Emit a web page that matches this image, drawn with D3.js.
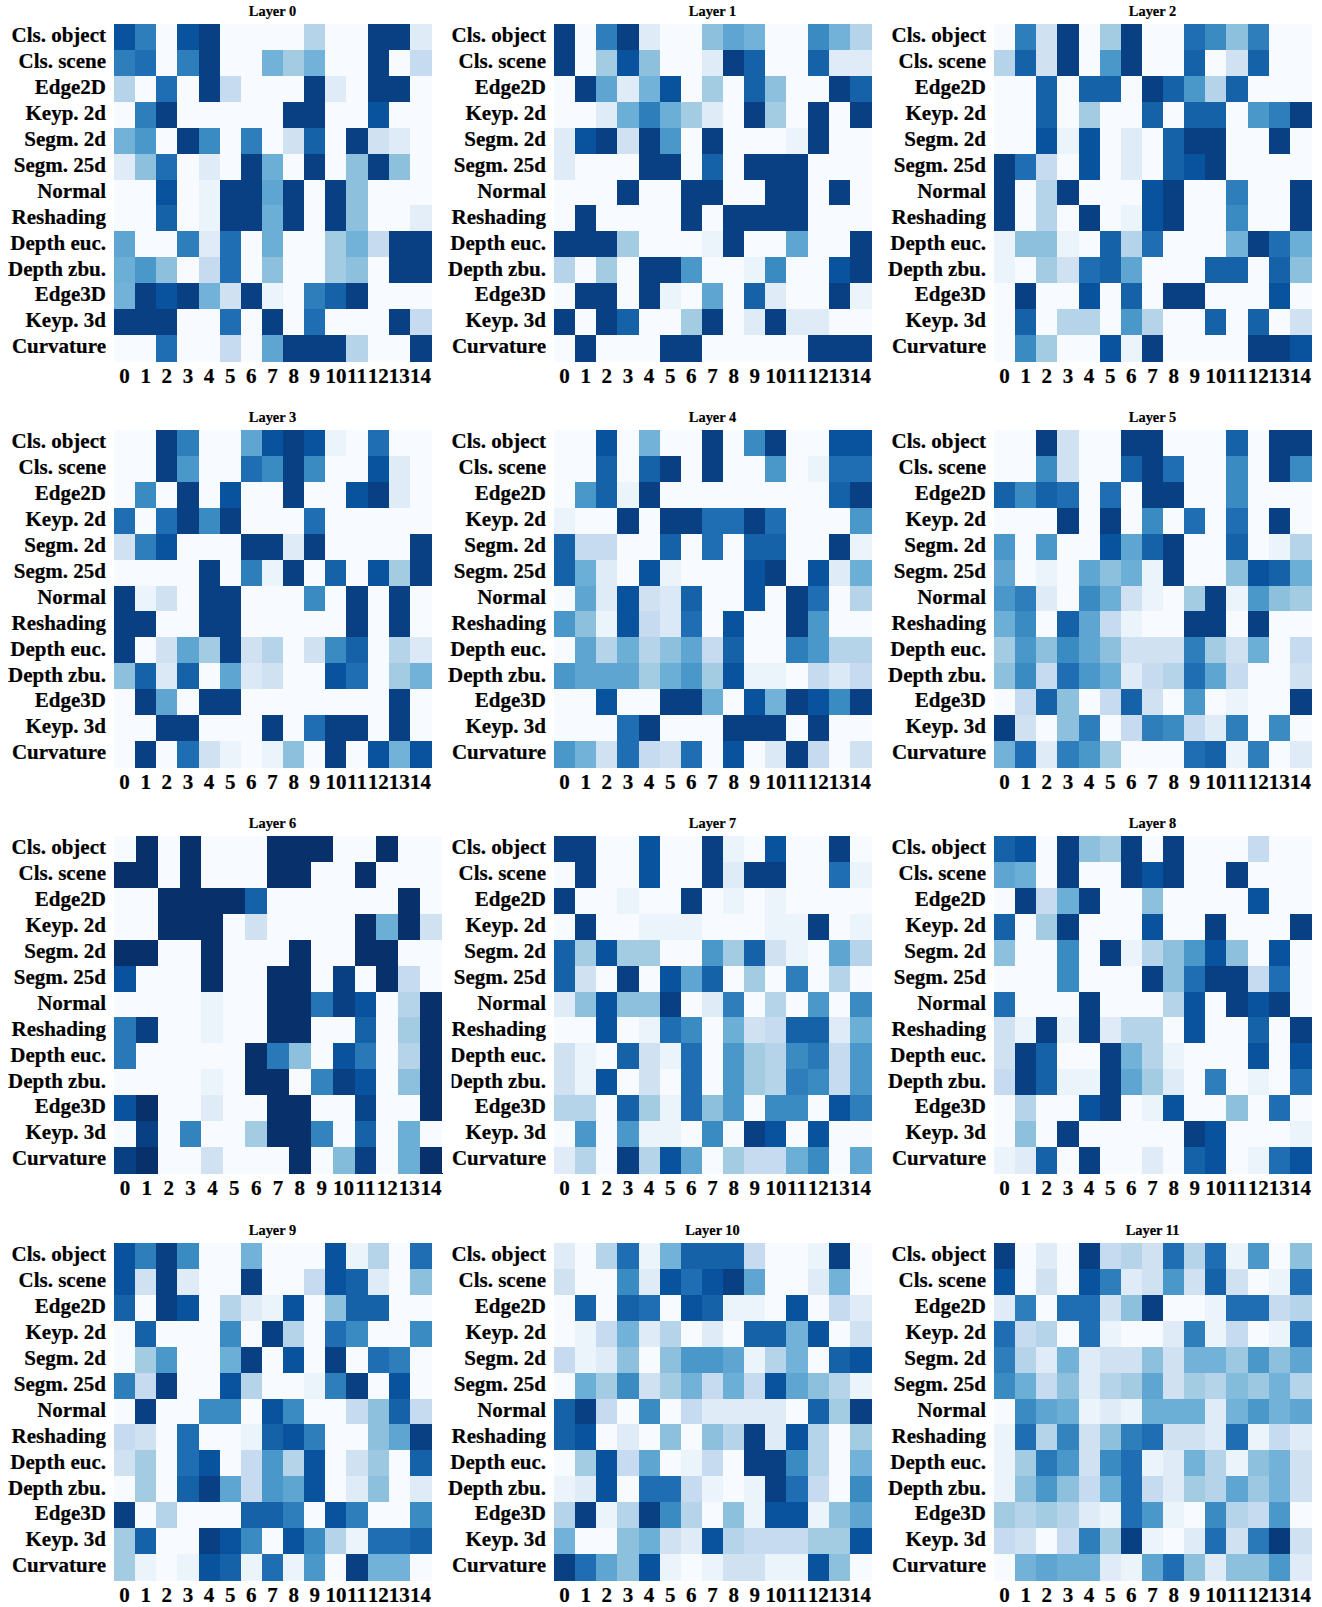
<!DOCTYPE html>
<html><head><meta charset="utf-8">
<script src="https://cdn.jsdelivr.net/npm/d3@7"></script>
<style>
html,body{margin:0;padding:0;background:#fff}
svg{display:block}
text{font-family:"Liberation Serif",serif;font-weight:bold;fill:#000;stroke:#000;stroke-width:0.2px}
</style></head><body>
<div id="chart"></div>
<script>
const tasks = ["Cls. object","Cls. scene","Edge2D","Keyp. 2d","Segm. 2d","Segm. 25d","Normal","Reshading","Depth euc.","Depth zbu.","Edge3D","Keyp. 3d","Curvature"];
const columns = [0,1,2,3,4,5,6,7,8,9,10,11,12,13,14];

const layer0 = [
[87,70,0,87,94,0,0,0,0,30,0,0,94,94,12],
[70,76,0,70,94,0,0,48,36,48,0,0,94,0,25],
[30,0,76,0,94,25,0,0,0,94,12,0,94,94,0],
[0,70,94,0,0,0,0,0,94,94,0,0,87,0,0],
[48,60,0,94,65,0,70,0,20,81,0,94,20,12,0],
[12,42,76,0,12,0,94,50,0,94,0,42,94,42,0],
[0,0,87,0,6,94,94,54,94,0,94,42,0,0,0],
[0,0,81,0,6,94,94,50,94,0,94,42,0,0,10],
[54,0,0,70,12,76,0,50,0,0,36,48,25,94,94],
[50,60,42,0,25,76,0,42,0,0,36,42,0,94,94],
[48,94,87,94,48,20,94,6,0,70,81,94,0,0,0],
[94,94,94,0,0,76,0,94,0,76,0,0,0,94,25],
[0,0,76,0,0,25,0,54,94,94,94,30,0,0,94]];
const layer1 = [
[94,0,70,94,12,0,0,42,54,48,0,0,65,48,30],
[94,0,36,87,42,0,0,12,94,81,0,0,81,12,12],
[0,94,54,12,48,87,0,36,0,81,42,0,0,94,81],
[0,0,12,50,70,50,36,12,0,94,36,0,94,0,94],
[12,87,94,20,94,60,0,94,0,0,0,6,94,0,0],
[12,0,0,0,94,94,0,81,0,94,94,94,0,0,0],
[0,0,0,94,0,0,94,94,0,0,94,94,0,94,0],
[0,94,0,0,0,0,94,0,94,94,94,94,0,0,0],
[94,94,94,36,0,0,0,6,94,0,0,54,0,0,94],
[30,0,36,0,94,94,60,0,0,6,65,0,0,87,94],
[0,94,94,0,94,6,0,54,0,81,12,0,0,94,6],
[94,0,94,81,0,0,36,94,0,12,94,12,12,0,0],
[0,94,0,0,0,94,94,0,0,0,0,0,94,94,94]];
const layer2 = [
[0,70,20,94,0,36,94,0,0,76,65,42,70,0,0],
[30,81,20,94,0,60,94,0,0,81,0,20,81,0,0],
[0,0,81,0,81,81,0,94,81,60,30,81,0,0,0],
[0,0,81,0,36,0,0,81,0,81,81,0,60,70,94],
[0,0,87,6,87,0,12,0,81,94,94,0,0,94,0],
[94,76,25,0,87,0,12,0,81,87,94,0,0,0,0],
[94,0,30,94,0,0,0,87,94,0,0,70,0,0,94],
[94,0,30,0,94,0,6,87,94,0,0,65,0,0,94],
[6,42,42,6,0,81,30,76,0,0,0,48,94,76,50],
[6,0,36,20,76,81,54,0,0,0,81,81,0,81,42],
[0,94,0,0,87,0,81,0,94,94,0,0,0,87,0],
[0,81,0,30,30,0,60,30,0,0,81,0,81,0,20],
[0,65,36,0,0,87,6,94,0,0,0,0,94,94,87]];
const layer3 = [
[0,0,94,70,0,0,54,87,94,87,6,0,76,0,0],
[0,0,94,60,0,0,76,65,94,65,0,0,87,12,0],
[0,65,0,94,0,87,0,0,94,0,0,87,94,12,0],
[76,0,76,94,65,94,0,0,0,76,0,0,0,0,0],
[20,70,87,0,0,0,94,94,12,94,0,0,0,0,94],
[0,0,0,0,94,0,70,6,94,0,81,0,87,36,94],
[94,6,20,0,94,94,0,0,0,65,0,94,0,94,0],
[94,94,0,0,94,94,0,0,0,0,0,94,0,94,0],
[94,0,20,54,36,94,20,30,0,20,65,81,0,30,14],
[42,81,14,81,0,54,14,20,0,0,87,76,0,36,48],
[0,94,54,0,94,94,0,0,0,0,0,0,0,94,0],
[0,0,94,94,0,0,0,94,0,76,94,94,0,94,0],
[0,94,0,76,20,6,0,6,42,0,94,0,87,48,87]];
const layer4 = [
[0,0,87,0,48,0,0,94,0,65,94,0,0,87,87],
[0,0,81,0,81,94,0,94,0,0,60,0,6,76,76],
[0,60,81,6,94,0,0,0,0,0,0,0,0,81,94],
[6,0,0,94,0,94,94,76,76,94,76,0,0,0,60],
[81,25,25,0,0,81,0,76,0,81,81,0,0,94,6],
[81,50,12,0,87,6,0,0,0,87,94,0,87,12,50],
[0,54,12,87,20,14,81,0,0,87,0,94,76,0,30],
[60,42,6,87,25,14,76,0,87,0,0,94,60,0,0],
[0,54,30,50,30,42,54,25,81,0,0,70,60,30,30],
[60,54,54,54,36,50,60,36,87,6,6,0,25,14,25],
[0,0,87,0,0,94,94,50,0,87,48,94,87,65,94],
[0,0,0,76,94,0,0,0,94,94,94,0,94,0,0],
[60,48,20,76,25,20,76,0,87,0,14,94,25,0,20]];
const layer5 = [
[0,0,94,20,0,0,94,94,0,0,0,81,0,94,94],
[0,0,65,20,0,0,81,94,76,0,0,65,0,94,65],
[81,65,81,76,0,76,0,94,94,0,0,65,0,0,0],
[0,0,0,94,0,94,0,65,0,76,0,76,0,94,0],
[60,0,60,0,0,87,54,81,94,0,0,81,0,6,30],
[54,0,6,0,54,42,50,6,94,0,0,42,87,81,50],
[60,70,12,0,65,50,20,6,0,36,94,6,60,42,36],
[50,65,0,81,54,25,6,0,0,94,94,0,94,0,0],
[36,60,42,65,54,42,20,20,20,70,36,20,50,0,25],
[42,65,25,76,60,50,12,25,30,76,54,25,0,0,20],
[0,25,81,42,0,25,81,20,0,60,0,6,0,0,94],
[94,20,0,42,70,0,25,70,65,25,12,70,0,65,0],
[48,76,12,70,60,36,0,0,0,76,81,6,70,0,12]];
const layer6 = [
[0,100,0,100,0,0,0,100,100,100,0,0,100,0,0],
[100,100,0,100,0,0,0,100,100,0,0,100,0,0,0],
[0,0,100,100,100,100,81,0,0,0,0,0,0,100,0],
[0,0,100,100,100,0,20,0,0,0,0,100,50,100,20],
[100,100,0,0,100,0,0,0,100,0,0,100,100,0,0],
[87,0,0,0,100,0,0,100,100,0,94,0,100,25,0],
[0,0,0,0,6,0,0,100,100,74,94,87,0,30,100],
[72,94,0,0,6,0,0,100,100,0,0,81,0,36,100],
[72,0,0,0,0,0,100,72,42,0,87,72,0,30,100],
[0,0,0,0,6,0,100,100,0,68,94,87,0,42,100],
[87,100,0,0,12,0,0,100,100,0,0,92,0,0,100],
[0,94,0,68,0,0,36,100,100,68,0,81,0,50,0],
[94,100,0,0,20,0,0,0,100,0,44,94,0,50,100]];
const layer7 = [
[94,94,0,0,87,0,0,94,6,0,87,0,0,94,0],
[0,94,0,0,87,0,0,94,12,94,94,0,0,76,6],
[94,0,0,6,0,0,94,0,6,0,6,0,0,0,0],
[0,94,0,0,6,6,6,0,0,0,6,6,94,0,6],
[81,36,87,36,36,0,0,60,36,81,20,6,0,54,30],
[81,20,0,94,0,87,54,81,0,36,0,70,0,30,0],
[12,42,87,42,42,94,0,12,70,0,30,0,60,0,65],
[0,0,87,0,6,76,65,0,50,20,25,81,81,12,50],
[20,6,0,81,20,6,76,0,60,36,30,65,72,25,60],
[20,6,87,0,20,0,76,0,60,36,30,70,65,25,60],
[30,30,0,81,36,6,76,42,60,0,65,65,0,87,70],
[0,60,0,60,6,6,0,65,0,94,87,0,87,0,0],
[12,30,0,94,30,87,54,0,36,25,25,50,65,0,54]];
const layer8 = [
[81,87,0,94,42,36,94,0,94,0,0,0,25,0,0],
[54,50,0,94,0,0,94,87,94,0,0,94,0,0,0],
[0,94,25,50,94,0,0,42,0,0,0,0,87,0,0],
[81,0,36,94,0,0,0,87,0,0,94,0,0,0,94],
[42,0,0,65,0,94,6,30,42,60,87,42,0,87,0],
[0,0,0,65,0,0,0,94,42,76,94,94,25,76,0],
[76,0,0,0,94,0,0,0,30,87,0,94,87,94,0],
[20,6,94,6,94,12,30,30,0,87,0,0,81,0,94],
[20,94,81,0,0,94,48,30,6,0,0,0,87,0,87],
[25,94,81,6,6,94,54,36,12,0,70,0,6,0,76],
[0,30,0,0,87,94,0,6,87,0,0,42,0,76,0],
[0,42,0,94,0,0,0,0,0,94,87,0,0,0,6],
[6,12,81,0,94,0,0,12,0,81,87,0,6,76,87]];
const layer9 = [
[87,70,94,65,0,0,48,0,0,0,87,6,30,0,76],
[87,20,94,12,0,0,94,0,0,25,87,81,12,0,42],
[81,0,94,87,0,30,12,6,87,0,42,81,81,0,0],
[0,81,0,0,0,65,0,94,30,0,76,65,0,0,65],
[0,36,60,0,0,50,94,0,87,0,94,0,76,70,0],
[70,25,94,0,0,87,30,0,0,6,70,94,0,87,0],
[0,94,0,0,65,65,0,87,65,0,0,25,42,81,25],
[25,20,0,76,0,0,6,81,87,70,0,0,42,54,94],
[20,36,0,76,87,0,25,60,30,87,0,20,38,0,81],
[0,36,0,81,94,54,25,60,54,87,0,12,42,0,12],
[94,0,30,0,0,0,81,81,70,0,87,70,0,0,65],
[36,81,0,0,94,87,65,0,87,65,30,6,76,76,81],
[36,6,0,6,87,81,6,76,6,60,0,94,48,48,0]];
const layer10 = [
[12,0,30,76,6,48,81,81,81,25,0,0,6,94,0],
[20,0,0,65,12,87,76,87,94,54,0,0,12,48,0],
[0,81,0,81,76,0,87,81,6,6,0,87,0,25,12],
[0,6,25,48,12,30,0,12,0,81,81,48,87,0,20],
[25,6,12,42,0,42,60,60,54,6,30,48,0,81,87],
[0,50,36,65,20,36,48,25,50,25,87,54,42,30,6],
[81,94,25,0,65,0,25,12,12,12,12,0,81,36,94],
[81,87,0,12,0,42,0,42,30,94,12,87,30,0,36],
[0,36,87,25,54,0,6,25,0,94,94,65,30,0,48],
[6,12,87,0,76,76,25,6,0,6,94,76,25,0,65],
[30,94,6,30,94,65,30,0,42,6,87,87,6,42,54],
[48,0,0,42,50,20,12,87,30,25,25,25,36,36,87],
[94,76,54,42,87,6,0,6,20,20,6,6,87,42,0]];
const layer11 = [
[94,0,12,0,94,25,30,20,76,30,76,6,60,0,42],
[87,0,20,0,87,70,12,20,60,20,81,20,0,6,76],
[12,70,0,76,76,20,42,94,0,0,6,76,76,25,30],
[76,25,30,0,76,6,0,0,12,70,6,25,0,6,76],
[70,30,12,48,12,20,20,42,20,48,48,38,60,42,54],
[65,50,25,42,12,30,36,54,20,36,30,44,38,48,30],
[0,65,54,50,6,12,6,50,50,50,12,48,60,48,54],
[6,76,30,68,20,42,70,76,20,20,12,76,6,25,12],
[6,36,72,60,20,65,76,6,12,48,30,6,42,48,20],
[6,42,60,42,25,50,76,25,12,36,30,54,38,48,20],
[36,30,36,30,12,6,76,60,6,0,65,30,25,60,0],
[25,20,0,25,70,36,94,6,0,12,76,20,72,96,20],
[0,48,54,50,50,12,6,54,76,42,12,42,42,60,12]];

const layers = [layer0,layer1,layer2,layer3,layer4,layer5,layer6,layer7,layer8,layer9,layer10,layer11];

// layout
const W = 1322, H = 1607;
const colX = [114, 554, 994];
const rowY = [24, 430, 836, 1243];
const plotW = 317, plotH = 337;
const wideW = {6: 328};          // Layer 6's map is drawn slightly wider
const labelSize = 21, titleSize = 14.4;

const blues = d3.schemeBlues[9];
const color = d3.scaleLinear().domain(blues.map((_,i)=>i*100/8)).range(blues).interpolate(d3.interpolateRgb);

const svg = d3.select("#chart").append("svg").attr("width",W).attr("height",H).attr("viewBox",[0,0,W,H]);

layers.forEach((m,li)=>{
  const px = colX[li%3], py = rowY[Math.floor(li/3)];
  const w = wideW[li] || plotW;
  const x = d3.scaleBand().domain(columns).range([0,w]);
  const y = d3.scaleBand().domain(tasks).range([0,plotH]);
  const g = svg.append("g").attr("class","panel").attr("transform",`translate(${px},${py})`);

  g.append("g").attr("shape-rendering","crispEdges")
   .selectAll("g").data(m).join("g").attr("data-task",(_,i)=>tasks[i])
   .each(function(row,ri){
     d3.select(this).selectAll("rect").data(row).join("rect")
       .attr("x",(_,c)=>x(c)).attr("y",y(tasks[ri]))
       .attr("width",x.bandwidth()+0.5).attr("height",y.bandwidth()+0.5)
       .attr("fill",d=>color(d));
   });

  const ax = g.append("g").attr("transform",`translate(0,${plotH})`).call(d3.axisBottom(x).tickSize(0).tickPadding(7.5));
  ax.select(".domain").remove();
  ax.selectAll("text").attr("font-size",labelSize).attr("font-family",null);

  const ay = g.append("g").call(d3.axisLeft(y).tickSize(0).tickPadding(8));
  ay.select(".domain").remove();
  ay.selectAll("text").attr("font-size",labelSize).attr("font-family",null).attr("dy","0.25em");

  g.append("text").attr("x",plotW/2).attr("y",-8).attr("text-anchor","middle")
   .attr("font-size",titleSize).text("Layer "+li);
});

// Layer 6's white margin overlaps the start of the "Depth zbu." label of Layer 7
svg.append("rect").attr("x",442).attr("y",rowY[2]).attr("width",9.7).attr("height",plotH).attr("fill","#fff");
</script>
</body></html>
